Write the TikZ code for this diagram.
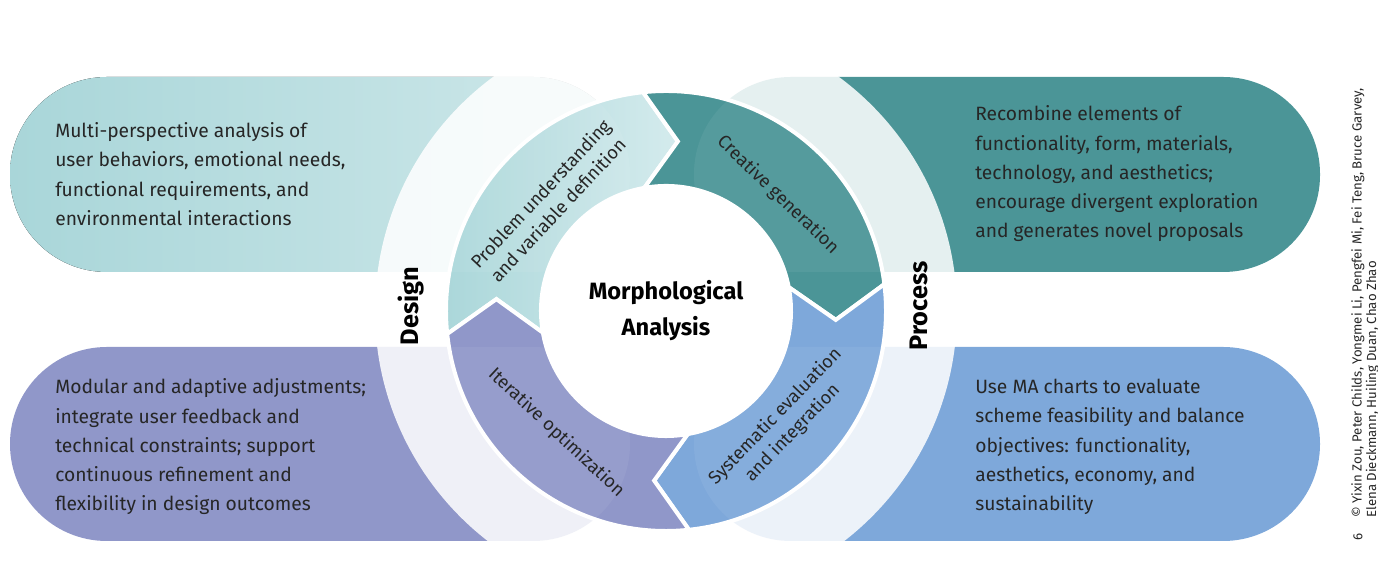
\documentclass[tikz,border=0pt]{standalone}
\usepackage{fontspec}
\setmainfont{Fira Sans}
\usetikzlibrary{positioning,calc}
\definecolor{ink}{HTML}{262626}
\definecolor{mint}{HTML}{A9D6D9}
\definecolor{mintlite}{HTML}{D4EBED}
\definecolor{tealbg}{HTML}{4B9597}
\definecolor{lilac}{HTML}{9097C9}
\definecolor{sky}{HTML}{7EA8DA}
\tikzset{
  pill/.style={rounded corners=24.2mm},
  boxtext/.style={align=left,anchor=west,text=ink,inner sep=0pt,
                  font=\fontsize{13.7}{20.8}\selectfont},
  cyclabel/.style={align=center,text=ink,inner sep=0pt,
                   font=\fontsize{13}{17}\selectfont},
  sidelabel/.style={rotate=90,text=black,inner sep=0pt,
                    font=\fontsize{18}{20}\selectfont\bfseries},
  cycarrow/.style={draw=white,line width=1mm,line join=miter}
}
% one ring segment: outer tail angle #1, outer head angle #2
\newcommand{\cycseg}[2]{(#1:220) arc[start angle=#1,end angle=#2,radius=220]
  -- (#2-10:170) -- (#2+4:125) arc[start angle=#2+4,end angle=#1+4,radius=125]
  -- (#1-10:170) -- cycle}

\begin{document}
\begin{tikzpicture}[x=0.25mm,y=0.25mm]
  \useasboundingbox (0,0) rectangle (1378,580);
  \coordinate (c) at (666,269);

  % side boxes
  \fill[pill,left color=mint,right color=mint!55] (10,308) rectangle (630,503);
  \fill[pill,tealbg] (694,308) rectangle (1320,503);
  \fill[pill,lilac] (10,39) rectangle (630,233);
  \fill[pill,sky] (694,39) rectangle (1320,233);

  % white halo behind the cycle
  \fill[white,opacity=0.86] (c) circle (291);

  % the four cycle arrows
  \begin{scope}[shift={(c)}]
    \filldraw[cycarrow,left color=mint,right color=mintlite] \cycseg{186}{96};
    \filldraw[cycarrow,fill=tealbg] \cycseg{96}{7};
    \filldraw[cycarrow,fill=sky] \cycseg{7}{-84};
    \filldraw[cycarrow,fill=lilac] \cycseg{-84}{-174};
  \end{scope}

  % box ends showing through the ring
  \begin{scope}
    \clip (c) circle (220);
    \fill[pill,white,opacity=0.06] (694,308) rectangle (1320,503);
    \fill[pill,white,opacity=0.06] (694,39) rectangle (1320,233);
    \fill[pill,white,opacity=0.06] (10,39) rectangle (630,233);
    \fill[pill,white,opacity=0.06] (10,308) rectangle (630,503);
  \end{scope}
  \fill[white] (c) circle (125);

  \begin{scope}[shift={(c)}]
    \node[cyclabel,rotate=47] (lblproblem) at (137:160)
      {Problem understanding\\and variable definition};
    \node[cyclabel,rotate=-44] (lblcreative) at (46:161) {Creative generation};
    \node[cyclabel,rotate=46] (lblsystem) at (-44:164)
      {Systematic evaluation\\and integration};
    \node[cyclabel,rotate=-43] (lbliterate) at (-132:164) {Iterative optimization};
  \end{scope}

  \node[align=center,text=black,font=\fontsize{16.8}{25.6}\selectfont\bfseries] (core) at (c)
    {Morphological\\Analysis};
  \node[sidelabel] (design) at (411,274) {Design};
  \node[sidelabel] (process) at (919,274) {Process};

  \node[boxtext] (needs) at (55,406) {Multi-perspective analysis of\\user behaviors, emotional needs,\\functional requirements, and\\environmental interactions};
  \node[boxtext] (recombine) at (975,406) {Recombine elements of\\functionality, form, materials,\\technology, and aesthetics;\\encourage divergent exploration\\and generates novel proposals};
  \node[boxtext] (adjust) at (55,133) {Modular and adaptive adjustments;\\integrate user feedback and\\technical constraints; support\\continuous refinement and\\flexibility in design outcomes};
  \node[boxtext] (evaluate) at (975,133) {Use MA charts to evaluate\\scheme feasibility and balance\\objectives: functionality,\\aesthetics, economy, and\\sustainability};

  % credit line along the right edge
  \node[rotate=90,inner sep=0pt,text=ink,font=\fontsize{9.4}{9.2}\selectfont] (pagenum) at (1358,43) {6};
  \node[rotate=90,anchor=north west,align=left,inner sep=0pt,text=ink,
        font=\fontsize{9.4}{9.2}\selectfont] (credit) at (1351,62)
    {© Yixin Zou, Peter Childs, Yongmei Li, Pengfei Mi, Fei Teng, Bruce Garvey,\\Elena Dieckmann, Huiling Duan, Chao Zhao};
\end{tikzpicture}
\end{document}
